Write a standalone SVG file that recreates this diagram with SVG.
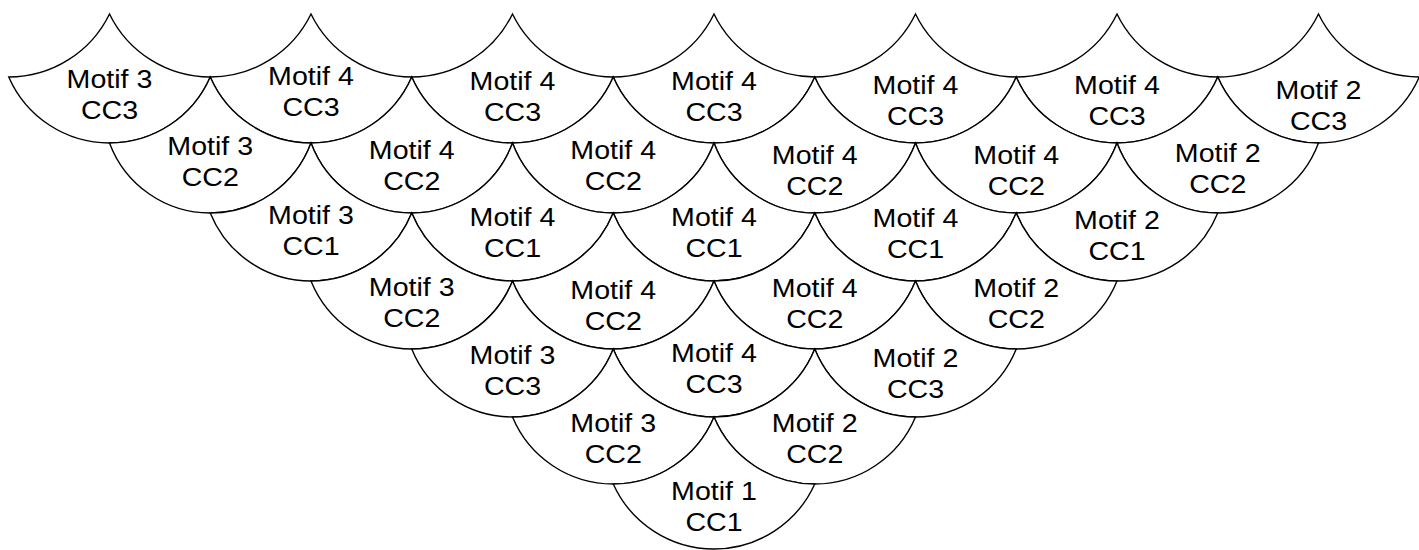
<svg xmlns="http://www.w3.org/2000/svg" width="1419" height="550" viewBox="0 0 1419 550">
<style>
.s{fill:#fff;stroke:#000;stroke-width:1.4;stroke-linejoin:miter}
.t{font-family:"Liberation Sans",Arial,sans-serif;font-size:26px;fill:#000;text-anchor:middle;transform-box:fill-box;transform-origin:center;transform:scaleX(1.1)}
</style>
<rect width="1419" height="550" fill="#fff"/>
<!-- Row 1: T=14 S=77 B=143 -->
<g id="r1c1"><path class="s" d="M8.75,77 A112.06,112.06 0 0 0 109.5,14 A112.06,112.06 0 0 0 210.25,77 A109.9,109.9 0 0 1 8.75,77 Z"/><text class="t" x="109.5" y="88">Motif 3<tspan x="109.5" dy="31">CC3</tspan></text></g>
<g id="r1c2"><path class="s" d="M210.25,77 A112.06,112.06 0 0 0 311,14 A112.06,112.06 0 0 0 411.75,77 A109.9,109.9 0 0 1 210.25,77 Z"/><text class="t" x="311" y="85">Motif 4<tspan x="311" dy="31">CC3</tspan></text></g>
<g id="r1c3"><path class="s" d="M411.75,77 A112.06,112.06 0 0 0 512.5,14 A112.06,112.06 0 0 0 613.25,77 A109.9,109.9 0 0 1 411.75,77 Z"/><text class="t" x="512.5" y="90">Motif 4<tspan x="512.5" dy="31">CC3</tspan></text></g>
<g id="r1c4"><path class="s" d="M613.25,77 A112.06,112.06 0 0 0 714,14 A112.06,112.06 0 0 0 814.75,77 A109.9,109.9 0 0 1 613.25,77 Z"/><text class="t" x="714" y="90">Motif 4<tspan x="714" dy="31">CC3</tspan></text></g>
<g id="r1c5"><path class="s" d="M814.75,77 A112.06,112.06 0 0 0 915.5,14 A112.06,112.06 0 0 0 1016.25,77 A109.9,109.9 0 0 1 814.75,77 Z"/><text class="t" x="915.5" y="94">Motif 4<tspan x="915.5" dy="31">CC3</tspan></text></g>
<g id="r1c6"><path class="s" d="M1016.25,77 A112.06,112.06 0 0 0 1117,14 A112.06,112.06 0 0 0 1217.75,77 A109.9,109.9 0 0 1 1016.25,77 Z"/><text class="t" x="1117" y="94">Motif 4<tspan x="1117" dy="31">CC3</tspan></text></g>
<g id="r1c7"><path class="s" d="M1217.75,77 A112.06,112.06 0 0 0 1318.5,14 A112.06,112.06 0 0 0 1419.25,77 A109.9,109.9 0 0 1 1217.75,77 Z"/><text class="t" x="1318.5" y="99">Motif 2<tspan x="1318.5" dy="31">CC3</tspan></text></g>
<!-- Row 2: T=77 S=143 B=213 -->
<g id="r2c1"><path class="s" d="M109.5,143 A109.9,109.9 0 0 0 210.25,77 A109.9,109.9 0 0 0 311,143 A107.5,107.5 0 0 1 109.5,143 Z"/><text class="t" x="210.25" y="155">Motif 3<tspan x="210.25" dy="31">CC2</tspan></text></g>
<g id="r2c2"><path class="s" d="M311,143 A109.9,109.9 0 0 0 411.75,77 A109.9,109.9 0 0 0 512.5,143 A107.5,107.5 0 0 1 311,143 Z"/><text class="t" x="411.75" y="159">Motif 4<tspan x="411.75" dy="31">CC2</tspan></text></g>
<g id="r2c3"><path class="s" d="M512.5,143 A109.9,109.9 0 0 0 613.25,77 A109.9,109.9 0 0 0 714,143 A107.5,107.5 0 0 1 512.5,143 Z"/><text class="t" x="613.25" y="159">Motif 4<tspan x="613.25" dy="31">CC2</tspan></text></g>
<g id="r2c4"><path class="s" d="M714,143 A109.9,109.9 0 0 0 814.75,77 A109.9,109.9 0 0 0 915.5,143 A107.5,107.5 0 0 1 714,143 Z"/><text class="t" x="814.75" y="164">Motif 4<tspan x="814.75" dy="31">CC2</tspan></text></g>
<g id="r2c5"><path class="s" d="M915.5,143 A109.9,109.9 0 0 0 1016.25,77 A109.9,109.9 0 0 0 1117,143 A107.5,107.5 0 0 1 915.5,143 Z"/><text class="t" x="1016.25" y="164">Motif 4<tspan x="1016.25" dy="31">CC2</tspan></text></g>
<g id="r2c6"><path class="s" d="M1117,143 A109.9,109.9 0 0 0 1217.75,77 A109.9,109.9 0 0 0 1318.5,143 A107.5,107.5 0 0 1 1117,143 Z"/><text class="t" x="1217.75" y="162">Motif 2<tspan x="1217.75" dy="31">CC2</tspan></text></g>
<!-- Row 3: T=143 S=213 B=281 -->
<g id="r3c1"><path class="s" d="M210.25,213 A107.5,107.5 0 0 0 311,143 A107.5,107.5 0 0 0 411.75,213 A108.64,108.64 0 0 1 210.25,213 Z"/><text class="t" x="311" y="224">Motif 3<tspan x="311" dy="31">CC1</tspan></text></g>
<g id="r3c2"><path class="s" d="M411.75,213 A107.5,107.5 0 0 0 512.5,143 A107.5,107.5 0 0 0 613.25,213 A108.64,108.64 0 0 1 411.75,213 Z"/><text class="t" x="512.5" y="226">Motif 4<tspan x="512.5" dy="31">CC1</tspan></text></g>
<g id="r3c3"><path class="s" d="M613.25,213 A107.5,107.5 0 0 0 714,143 A107.5,107.5 0 0 0 814.75,213 A108.64,108.64 0 0 1 613.25,213 Z"/><text class="t" x="714" y="226">Motif 4<tspan x="714" dy="31">CC1</tspan></text></g>
<g id="r3c4"><path class="s" d="M814.75,213 A107.5,107.5 0 0 0 915.5,143 A107.5,107.5 0 0 0 1016.25,213 A108.64,108.64 0 0 1 814.75,213 Z"/><text class="t" x="915.5" y="227">Motif 4<tspan x="915.5" dy="31">CC1</tspan></text></g>
<g id="r3c5"><path class="s" d="M1016.25,213 A107.5,107.5 0 0 0 1117,143 A107.5,107.5 0 0 0 1217.75,213 A108.64,108.64 0 0 1 1016.25,213 Z"/><text class="t" x="1117" y="229">Motif 2<tspan x="1117" dy="31">CC1</tspan></text></g>
<!-- Row 4: T=213 S=281 B=349 -->
<g id="r4c1"><path class="s" d="M311,281 A108.64,108.64 0 0 0 411.75,213 A108.64,108.64 0 0 0 512.5,281 A108.64,108.64 0 0 1 311,281 Z"/><text class="t" x="411.75" y="296">Motif 3<tspan x="411.75" dy="31">CC2</tspan></text></g>
<g id="r4c2"><path class="s" d="M512.5,281 A108.64,108.64 0 0 0 613.25,213 A108.64,108.64 0 0 0 714,281 A108.64,108.64 0 0 1 512.5,281 Z"/><text class="t" x="613.25" y="299">Motif 4<tspan x="613.25" dy="31">CC2</tspan></text></g>
<g id="r4c3"><path class="s" d="M714,281 A108.64,108.64 0 0 0 814.75,213 A108.64,108.64 0 0 0 915.5,281 A108.64,108.64 0 0 1 714,281 Z"/><text class="t" x="814.75" y="297">Motif 4<tspan x="814.75" dy="31">CC2</tspan></text></g>
<g id="r4c4"><path class="s" d="M915.5,281 A108.64,108.64 0 0 0 1016.25,213 A108.64,108.64 0 0 0 1117,281 A108.64,108.64 0 0 1 915.5,281 Z"/><text class="t" x="1016.25" y="297">Motif 2<tspan x="1016.25" dy="31">CC2</tspan></text></g>
<!-- Row 5: T=281 S=349 B=417 -->
<g id="r5c1"><path class="s" d="M411.75,349 A108.64,108.64 0 0 0 512.5,281 A108.64,108.64 0 0 0 613.25,349 A108.64,108.64 0 0 1 411.75,349 Z"/><text class="t" x="512.5" y="364">Motif 3<tspan x="512.5" dy="31">CC3</tspan></text></g>
<g id="r5c2"><path class="s" d="M613.25,349 A108.64,108.64 0 0 0 714,281 A108.64,108.64 0 0 0 814.75,349 A108.64,108.64 0 0 1 613.25,349 Z"/><text class="t" x="714" y="362">Motif 4<tspan x="714" dy="31">CC3</tspan></text></g>
<g id="r5c3"><path class="s" d="M814.75,349 A108.64,108.64 0 0 0 915.5,281 A108.64,108.64 0 0 0 1016.25,349 A108.64,108.64 0 0 1 814.75,349 Z"/><text class="t" x="915.5" y="367">Motif 2<tspan x="915.5" dy="31">CC3</tspan></text></g>
<!-- Row 6: T=349 S=417 B=484 -->
<g id="r6c1"><path class="s" d="M512.5,417 A108.64,108.64 0 0 0 613.25,349 A108.64,108.64 0 0 0 714,417 A109.25,109.25 0 0 1 512.5,417 Z"/><text class="t" x="613.25" y="432">Motif 3<tspan x="613.25" dy="31">CC2</tspan></text></g>
<g id="r6c2"><path class="s" d="M714,417 A108.64,108.64 0 0 0 814.75,349 A108.64,108.64 0 0 0 915.5,417 A109.25,109.25 0 0 1 714,417 Z"/><text class="t" x="814.75" y="432">Motif 2<tspan x="814.75" dy="31">CC2</tspan></text></g>
<!-- Row 7: T=417 S=484 B=549 -->
<g id="r7c1"><path class="s" d="M613.25,484 A109.25,109.25 0 0 0 714,417 A109.25,109.25 0 0 0 814.75,484 A110.58,110.58 0 0 1 613.25,484 Z"/><text class="t" x="714" y="500">Motif 1<tspan x="714" dy="31">CC1</tspan></text></g>
<g id="connectors"></g>
</svg>
